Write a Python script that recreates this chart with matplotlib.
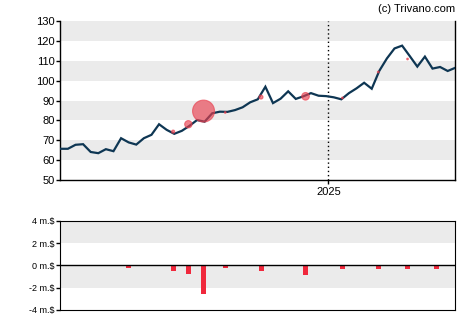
#price chart with insider trades
import numpy as np
import pandas as pd
import matplotlib
matplotlib.use("Agg")
import matplotlib.pyplot as plt
import matplotlib.dates as mdates

# weekly closing prices
prices = [65.8, 65.8, 67.8, 68.1, 64.2, 63.6, 65.6, 64.6, 71.1, 69.0,
          67.9, 71.1, 72.8, 78.1, 75.3, 73.3, 74.8, 77.3, 80.2, 79.4,
          83.6, 84.4, 84.3, 85.2, 86.6, 89.1, 90.6, 96.9, 88.7, 90.9,
          94.6, 90.8, 92.1, 93.7, 92.4, 92.2, 91.6, 90.6, 93.7, 96.1,
          98.9, 95.9, 104.9, 111.1, 116.1, 117.5, 112.3, 107.0, 112.0, 106.0,
          106.8, 104.8, 106.4]
dates = pd.date_range("2024-04-29", periods=len(prices), freq="7D")

# insider trades: date, net value (m.$), price at trade, bubble size
trade_dates = pd.to_datetime(["2024-07-01", "2024-08-11", "2024-08-25", "2024-09-08",
                              "2024-09-28", "2024-10-31", "2024-12-11", "2025-01-14",
                              "2025-02-16", "2025-03-15", "2025-04-11"])
trade_values = [-0.2, -0.48, -0.78, -2.55, -0.2, -0.48, -0.87, -0.33, -0.33, -0.33, -0.33]
trade_prices = [69.0, 74.4, 78.1, 84.7, 84.0, 91.7, 92.1, 91.3, 104.3, 110.8, 106.8]
trade_sizes = [0, 5, 28, 250, 1.5, 8, 30, 1.5, 1.5, 1.5, 0]

line_col = "#0e3653"
bubble_col = "#e8404f"
bar_col = "#f0283c"
band_col = "#ebebeb"

fig = plt.figure(figsize=(4.7, 3.25), dpi=100)
ax = fig.add_axes([0.1283, 0.4452, 0.8404, 0.4911])
ax2 = fig.add_axes([0.1283, 0.0462, 0.8404, 0.2748])

# top panel
for lo in [60, 80, 100, 120]:
    ax.axhspan(lo, lo + 10, color=band_col, lw=0, zorder=0)
ax.plot(dates, prices, color=line_col, lw=1.6, zorder=3, solid_joinstyle="miter")
ax.scatter(trade_dates, trade_prices, s=trade_sizes, color=bubble_col, alpha=0.65,
           lw=0.8, edgecolors=bubble_col, zorder=4)
ax.axvline(pd.Timestamp("2025-01-01"), color="black", ls=(0, (1, 2)), lw=1, zorder=2)
ax.set_ylim(50, 130)
ax.set_yticks(range(50, 131, 10))
ax.set_xlim(dates[0], dates[-1])
ax.set_xticks([pd.Timestamp("2025-01-01")])
ax.xaxis.set_major_formatter(mdates.DateFormatter("%Y"))
ax.spines["top"].set_visible(False)
for s in ["left", "bottom", "right"]:
    ax.spines[s].set_linewidth(1.0)
ax.tick_params(axis="both", length=3, width=1, labelsize=8, pad=1, colors="black")
ax.tick_params(axis="x", pad=2)
for lab in ax.get_yticklabels() + ax.get_xticklabels():
    lab.set_fontfamily("Liberation Sans")

# bottom panel
for lo in [-2, 2]:
    ax2.axhspan(lo, lo + 2, color=band_col, lw=0, zorder=0)
ax2.bar(trade_dates, trade_values, width=4.6, color=bar_col, zorder=3)
ax2.axhline(0, color="black", lw=1, zorder=4)
ax2.set_ylim(-4, 4)
ax2.set_xlim(dates[0], dates[-1])
ax2.set_yticks([-4, -2, 0, 2, 4])
ax2.set_yticklabels(["-4 m.$", "-2 m.$", "0 m.$", "2 m.$", "4 m.$"])
ax2.set_xticks([])
ax2.tick_params(axis="y", length=3, width=1, labelsize=6.5, pad=1)
for lab in ax2.get_yticklabels():
    lab.set_fontfamily("Liberation Sans")

fig.text(0.968, 0.972, "(c) Trivano.com", ha="right", va="center", fontsize=8,
         family="Liberation Sans")

fig.savefig("out.png", dpi=100)
